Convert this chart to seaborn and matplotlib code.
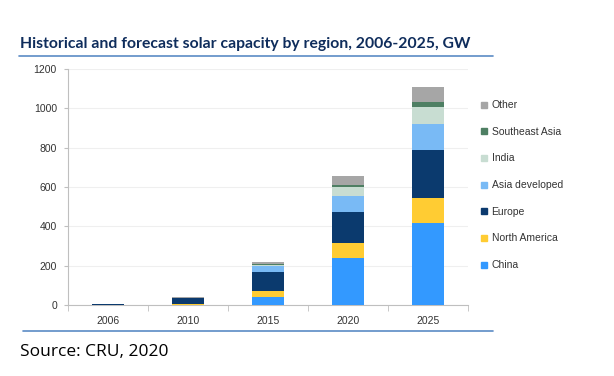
import matplotlib
matplotlib.use("Agg")
import matplotlib.pyplot as plt
import seaborn as sns
import numpy as np
import pandas as pd
from matplotlib.lines import Line2D

years = ["2006", "2010", "2015", "2020", "2025"]
series = ["China", "North America", "Europe", "Asia developed", "India", "Southeast Asia", "Other"]
china = [0.5, 1, 43, 237, 415]
north_america = [0.5, 3, 27, 78, 131]
europe = [5, 30, 96, 156, 242]
asia_developed = [1, 4, 34, 85, 134]
india = [0, 0, 4, 44, 83]
southeast_asia = [0, 0, 2, 10, 26]
other = [0.5, 2, 13, 44, 76]
colors = ["#3399FF", "#FFCC33", "#0B3A6E", "#79BAF5", "#C8DDD2", "#4E7F63", "#A6A6A6"]

values = [china, north_america, europe, asia_developed, india, southeast_asia, other]
cum = np.cumsum(np.array(values, dtype=float), axis=0)

sns.set_style("white")
plt.rcParams["font.family"] = ["Liberation Sans", "DejaVu Sans"]

fig = plt.figure(figsize=(6.14, 3.76), dpi=100)
ax = fig.add_axes([68 / 614, 1 - 305 / 376, 400 / 614, 236 / 376])

# draw cumulative bars from top layer down so lower layers overlay
for i in range(len(series) - 1, -1, -1):
    df = pd.DataFrame({"year": years, "value": cum[i]})
    sns.barplot(data=df, x="year", y="value", color=colors[i], saturation=1,
                width=0.4, ax=ax, zorder=3, linewidth=0)

ax.set_ylim(0, 1200)
ax.set_xlim(-0.5, 4.5)
ax.set_yticks(range(0, 1201, 200))
ax.set_xlabel("")
ax.set_ylabel("")
ax.yaxis.grid(True, color="#EFEFEF", linewidth=0.8, zorder=0)
ax.set_axisbelow(True)
for s in ["top", "right"]:
    ax.spines[s].set_visible(False)
for s in ["left", "bottom"]:
    ax.spines[s].set_color("#BFBFBF")
    ax.spines[s].set_linewidth(0.8)
ax.tick_params(axis="y", which="major", length=3, color="#BFBFBF", labelsize=7.5,
               labelcolor="#333333", pad=5, left=True)
ax.tick_params(axis="x", which="major", length=0, labelsize=7.5, labelcolor="#333333", pad=8)
ax.set_xticks(np.arange(-0.5, 4.6, 1), minor=True)
ax.tick_params(axis="x", which="minor", length=4, color="#BFBFBF", bottom=True)

handles = [Line2D([0], [0], marker="s", linestyle="none", markersize=5,
                  markerfacecolor=colors[i], markeredgecolor=colors[i])
           for i in range(len(series) - 1, -1, -1)]
labels = [series[i] for i in range(len(series) - 1, -1, -1)]
fig.legend(handles, labels, loc="upper left", bbox_to_anchor=(477 / 614, 1 - 96 / 376),
           frameon=False, fontsize=7.5, labelspacing=1.6, handlelength=0.6,
           handletextpad=0.4, borderaxespad=0, labelcolor="#333333")

fig.text(20 / 614, 1 - 44 / 376, "Historical and forecast solar capacity by region, 2006-2025, GW",
         fontsize=11.3, fontweight="bold", color="#0F2D5C", family=["Lato", "DejaVu Sans"],
         va="center", ha="left")
fig.add_artist(Line2D([19 / 614, 493 / 614], [1 - 56 / 376, 1 - 56 / 376],
                      color="#5B8BC5", linewidth=1.2, transform=fig.transFigure))
fig.add_artist(Line2D([23 / 614, 493 / 614], [1 - 331 / 376, 1 - 331 / 376],
                      color="#5B8BC5", linewidth=1.2, transform=fig.transFigure))
fig.text(20 / 614, 1 - 352 / 376, "Source: CRU, 2020", fontsize=12.5, color="black",
         family=["Open Sans", "DejaVu Sans"], va="center", ha="left")

fig.savefig("out.png", dpi=100)
